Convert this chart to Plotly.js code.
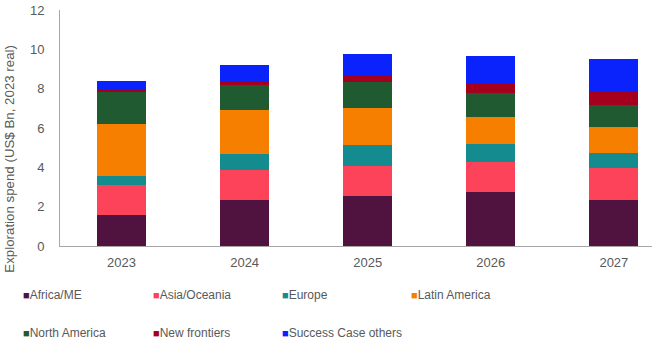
<!DOCTYPE html>
<html><head><meta charset="utf-8">
<script src="https://cdn.plot.ly/plotly-3.0.1.min.js"></script>
<style>html,body{margin:0;padding:0;background:#fff;}#chart{width:652px;height:345px;}</style>
</head><body><div id="chart"></div>
<script>
const years = ['2023','2024','2025','2026','2027'];
const seriesNames = ['Africa/ME','Asia/Oceania','Europe','Latin America','North America','New frontiers','Success Case others'];
const africaME      = [1.57, 2.33, 2.52, 2.75, 2.33];
const asiaOceania   = [1.53, 1.53, 1.53, 1.53, 1.65];
const europe        = [0.47, 0.83, 1.11, 0.93, 0.76];
const latinAmerica  = [2.63, 2.22, 1.87, 1.37, 1.30];
const northAmerica  = [1.62, 1.26, 1.33, 1.21, 1.12];
const newFrontiers  = [0.18, 0.19, 0.29, 0.47, 0.68];
const successCase   = [0.41, 0.84, 1.12, 1.40, 1.65];
const yTicks = [0, 2, 4, 6, 8, 10, 12];
const colors = ['#50133f','#fd4359','#138b8f','#f77f00','#1f5a30','#a4001e','#0a22fb'];
const values = [africaME, asiaOceania, europe, latinAmerica, northAmerica, newFrontiers, successCase];

const traces = values.map((v, i) => ({
  type: 'bar', x: years, y: v, name: seriesNames[i],
  marker: {color: colors[i], line: {width: 0}}, width: 0.4, showlegend: false,
  hoverinfo: 'x+y+name'
}));

const L = 60, T = 10, W = 652, H = 345, B = 98.5;
const pw = W - L, ph = H - T - B;
const px = x => (x - L) / pw;
const py = y => (H - B - y) / ph;

const legendCols = [21, 151, 280, 409];
const legendRows = [296, 334];
const annotations = seriesNames.map((n, i) => ({
  xref: 'paper', yref: 'paper', x: px(legendCols[i % 4]), y: py(legendRows[Math.floor(i / 4)]),
  xanchor: 'left', yanchor: 'middle', showarrow: false,
  text: '<span style="color:' + colors[i] + ';font-size:11px">■</span>' + n,
  font: {family: 'Liberation Sans, Arial, sans-serif', size: 12, color: '#595959'}
}));
annotations.push({
  xref: 'paper', yref: 'paper', x: px(10), y: py(159), textangle: -90,
  xanchor: 'center', yanchor: 'middle', showarrow: false,
  text: 'Exploration spend (US$ Bn, 2023 real)',
  font: {family: 'Liberation Sans, Arial, sans-serif', size: 13.3, color: '#595959'}
});

const layout = {
  width: W, height: H, barmode: 'stack',
  margin: {l: L, r: 0, t: T, b: B, pad: 0},
  paper_bgcolor: '#fff', plot_bgcolor: '#fff',
  font: {family: 'Liberation Sans, Arial, sans-serif', size: 12, color: '#595959'},
  xaxis: {type: 'category', range: [-0.5, 4.31], showline: true, linecolor: '#a6a6a6', linewidth: 1,
          ticks: '', showgrid: false, zeroline: false, tickfont: {size: 13, color: '#595959'}, ticklabelstandoff: 4},
  yaxis: {range: [0, 12], tickvals: yTicks, ticktext: yTicks.map(String), showline: true, linecolor: '#a6a6a6',
          linewidth: 1, ticks: '', showgrid: false, zeroline: false, tickfont: {size: 13, color: '#595959'},
          ticklabelstandoff: 12},
  bargap: 0.6,
  showlegend: false,
  annotations: annotations
};
Plotly.newPlot('chart', traces, layout, {staticPlot: true, displayModeBar: false});
</script></body></html>
